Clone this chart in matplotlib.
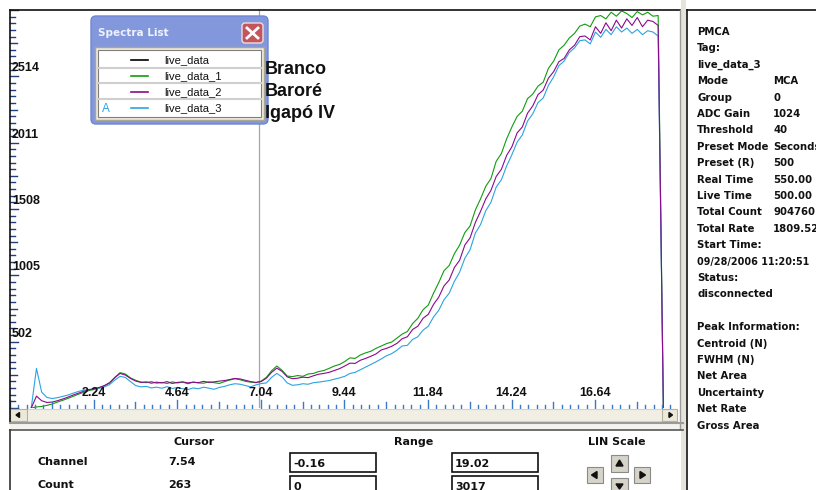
import matplotlib.pyplot as plt
import numpy as np
from matplotlib.patches import FancyBboxPatch, Polygon, Rectangle

W, H = 816, 490

# spectrum channels and counts per trace
channel = np.round(np.arange(0.45, 18.61, 0.15), 2)

live_data_1 = [
    0, 8, 12, 20, 30, 45, 58, 72, 88, 104,
    118, 132, 140, 152, 168, 190, 232, 268, 258, 228,
    210, 196, 192, 200, 188, 194, 186, 198, 190, 196,
    184, 196, 190, 188, 198, 192, 186, 200, 212, 222,
    214, 202, 196, 192, 204, 232, 282, 318, 286, 242,
    238, 246, 240, 258, 262, 276, 284, 300, 318, 330,
    352, 380, 376, 402, 418, 430, 452, 470, 488, 500,
    530, 560, 580, 640, 680, 745, 780, 870, 950, 1040,
    1080, 1170, 1235, 1330, 1380, 1500, 1585, 1680, 1740, 1870,
    1930, 2040, 2130, 2210, 2250, 2345, 2380, 2440, 2470, 2575,
    2630, 2715, 2750, 2805, 2840, 2895, 2910, 2890, 2965, 2975,
    2950, 3000, 2970, 3010, 2990, 2960, 3005, 2980, 3000, 2970, 2975, 0,
]
live_data_2 = [
    0, 90, 55, 42, 45, 55, 68, 82, 98, 112,
    126, 138, 146, 156, 170, 192, 230, 262, 250, 224,
    204, 194, 198, 188, 196, 190, 200, 186, 194, 198,
    190, 196, 192, 202, 194, 198, 204, 208, 216, 224,
    220, 210, 200, 194, 200, 226, 270, 302, 278, 236,
    222, 226, 234, 230, 244, 256, 262, 270, 284, 298,
    318, 340, 338, 362, 376, 392, 410, 440, 452, 468,
    490, 525, 540, 595, 620, 680, 710, 785, 840, 925,
    970, 1065, 1120, 1235, 1290, 1405, 1490, 1585, 1650, 1755,
    1810, 1915, 1980, 2085, 2130, 2235, 2290, 2375, 2410, 2500,
    2550, 2625, 2650, 2715, 2750, 2815, 2820, 2790, 2890, 2840,
    2920, 2860, 2940, 2880, 2950, 2900, 2960, 2890, 2940, 2930, 2900, 0,
]
live_data_3 = [
    0, 300, 120, 80, 72, 78, 88, 98, 112, 125,
    135, 140, 144, 150, 160, 178, 212, 240, 232, 200,
    170, 160, 164, 152, 158, 150, 162, 148, 156, 146,
    140, 152, 146, 158, 150, 142, 156, 164, 176, 184,
    180, 170, 160, 175, 185, 190, 232, 262, 236, 190,
    172, 176, 184, 180, 192, 196, 202, 208, 218, 228,
    240, 262, 270, 290, 310, 330, 350, 372, 396, 412,
    438, 470, 475, 520, 540, 590, 620, 690, 740, 820,
    870, 960, 1030, 1135, 1200, 1325, 1390, 1495, 1560, 1675,
    1730, 1835, 1920, 2015, 2070, 2175, 2230, 2315, 2350, 2445,
    2510, 2595, 2630, 2695, 2730, 2785, 2790, 2760, 2850, 2810,
    2870, 2830, 2890, 2850, 2880, 2840, 2870, 2830, 2860, 2850, 2820, 0,
]

x_lo, x_hi = -0.16, 19.02
y_lo, y_hi = 0, 3017
marker_channel = 7.0
cursor_channel = "7.54"
cursor_count = "263"

trace_names = ["live_data", "live_data_1", "live_data_2", "live_data_3"]
trace_colors = ["#000000", "#119b11", "#8b0a8b", "#2ba3e3"]
sample_names = ["Branco", "Baroré", "Igapó IV"]

info_rows = [
    ("PMCA", ""), ("Tag:", ""), ("live_data_3", ""), ("Mode", "MCA"),
    ("Group", "0"), ("ADC Gain", "1024"), ("Threshold", "40"),
    ("Preset Mode", "Seconds"), ("Preset (R)", "500"),
    ("Real Time", "550.00"), ("Live Time", "500.00"),
    ("Total Count", "904760"), ("Total Rate", "1809.52"),
    ("Start Time:", ""), ("09/28/2006 11:20:51", ""), ("Status:", ""),
    ("disconnected", ""), ("", ""), ("Peak Information:", ""),
    ("Centroid (N)", ""), ("FWHM (N)", ""), ("Net Area", ""),
    ("Uncertainty", ""), ("Net Rate", ""), ("Gross Area", ""),
]

plt.rcParams["font.family"] = "DejaVu Sans"
fig = plt.figure(figsize=(W / 100, H / 100), dpi=100, facecolor="white")

# pixel-space layer behind the plot
bg = fig.add_axes([0, 0, 1, 1], zorder=0)
bg.set_xlim(0, W)
bg.set_ylim(H, 0)
bg.axis("off")

# spectrum plot
ax = fig.add_axes([10 / W, 1 - 408 / H, 668 / W, 398 / H], zorder=1)
ax.set_xlim(x_lo, x_hi)
ax.set_ylim(y_lo, y_hi)
ax.axis("off")
ax.patch.set_visible(False)

kx = (x_hi - x_lo) / 668  # channel units per pixel
ky = (y_hi - y_lo) / 398  # counts per pixel

ax.axvline(marker_channel, color="#a6a6a6", lw=0.9)
for data, color in zip(
    [live_data_1, live_data_3, live_data_2],
    [trace_colors[1], trace_colors[3], trace_colors[2]],
):
    ax.plot(channel, data, color=color, lw=0.8)

# x ticks: minor every 0.24, medium every 1.2, major every 2.4
xt = np.arange(x_lo, x_hi + 1e-6, 0.24)
for k, t in enumerate(xt):
    n = 8 if k % 10 == 0 else (6 if k % 5 == 0 else 3.5)
    ax.plot([t, t], [0, n * ky], color="#3d78c6", lw=1, clip_on=False)
    if k % 10 == 0 and k > 0:
        ax.annotate(f"{t:.2f}", xy=(t, 0), xytext=(0, 15), textcoords="offset pixels",
                    ha="center", va="center", fontsize=9, fontweight="bold",
                    family="Liberation Sans", color="#111111")

# y ticks: 60 steps over full range, labels every 10th
yt = np.linspace(y_lo, y_hi, 61)
for k, t in enumerate(yt):
    n = 8 if k % 10 == 0 else (6.5 if k % 5 == 0 else 5)
    ax.plot([x_lo, x_lo + n * kx], [t, t], color="#1f3d80", lw=1, clip_on=False)
    if k % 10 == 0 and 0 < k < 60:
        ax.annotate(f"{int(t)}", xy=(x_lo, t), xytext=(2, 8), textcoords="offset pixels",
                    ha="left", va="center", fontsize=9, fontweight="bold",
                    family="Liberation Sans", color="#111111")

# pixel-space layer in front of the plot
ui = fig.add_axes([0, 0, 1, 1], zorder=2)
ui.set_xlim(0, W)
ui.set_ylim(H, 0)
ui.axis("off")
ui.patch.set_visible(False)

# plot frame
ui.plot([9.5, 680], [10, 10], color="#111111", lw=1.2)
ui.plot([9.5, 9.5], [10, 423], color="#111111", lw=1.2)
ui.plot([680, 680], [10, 428], color="#9c9c9c", lw=1)

# horizontal scroll bar
ui.add_patch(Rectangle((10, 408.5), 667, 12.5, facecolor="#f1efe3", edgecolor="#d8d4c0", lw=0.8))
ui.add_patch(Rectangle((10, 409), 17, 12, facecolor="#ece9d8", edgecolor="#b5b19c", lw=0.8))
ui.add_patch(Rectangle((662, 409), 15, 12, facecolor="#ece9d8", edgecolor="#b5b19c", lw=0.8))
ui.add_patch(Polygon([[16, 415], [19.5, 412.5], [19.5, 417.5]], closed=True, color="#111111"))
ui.add_patch(Polygon([[672.5, 415], [669, 412.5], [669, 417.5]], closed=True, color="#111111"))
ui.plot([9.5, 683], [423, 423], color="#9a9a9a", lw=1.5)
ui.add_patch(Rectangle((9.5, 424), 673.5, 4.5, facecolor="#f4f3ee", edgecolor="none"))

# lower control panel
ui.plot([9.5, 683], [429.5, 429.5], color="#555555", lw=1.2)
ui.plot([9.5, 9.5], [429.5, 490], color="#333333", lw=1.2)
bold8 = dict(fontsize=8, fontweight="bold", color="#111111", va="center")
ui.text(194, 442, "Cursor", ha="center", **bold8)
ui.text(414, 442, "Range", ha="center", **bold8)
ui.text(617, 442, "LIN Scale", ha="center", **bold8)
ui.text(37, 462, "Channel", ha="left", **bold8)
ui.text(37, 485, "Count", ha="left", **bold8)
ui.text(168, 462, cursor_channel, ha="left", **bold8)
ui.text(168, 485, cursor_count, ha="left", **bold8)
for (bx, by), txt in zip([(290, 453), (452, 453), (290, 476), (452, 476)],
                         [f"{x_lo:.2f}", f"{x_hi:.2f}", f"{y_lo}", f"{y_hi}"]):
    ui.add_patch(Rectangle((bx, by), 86, 19, facecolor="white", edgecolor="#111111", lw=1.2))
    ui.text(bx + 3, by + 10.5, txt, ha="left", **bold8)

# arrow buttons
for (bx, by, w, h), tri in [
    ((611, 455, 17, 17), [[619.5, 460], [616, 466], [623, 466]]),
    ((587, 467, 16, 16), [[591.5, 475], [597, 471.5], [597, 478.5]]),
    ((634, 467, 16, 16), [[645.5, 475], [640, 471.5], [640, 478.5]]),
    ((611, 478, 17, 17), [[619.5, 489], [616, 484], [623, 484]]),
]:
    ui.add_patch(Rectangle((bx, by), w, h, facecolor="#d6d3c9", edgecolor="#8a8a8a", lw=0.8))
    ui.add_patch(Polygon(tri, closed=True, color="#111111"))

# right information panel
ui.add_patch(Rectangle((681, 0), 5, H, facecolor="#e6e4d8", edgecolor="none"))
ui.plot([686.5, 686.5], [10, H], color="#111111", lw=1.2)
ui.plot([686.5, W], [10, 10], color="#111111", lw=1.2)
for i, (label, value) in enumerate(info_rows):
    yy = 32 + i * 16.4
    size = 6.9 if label.startswith("09/") else 7.3
    ui.text(697, yy, label, ha="left", va="center", fontsize=size,
            fontweight="bold", color="#111111")
    if value:
        ui.text(773, yy, value, ha="left", va="center", fontsize=7.3,
                fontweight="bold", color="#111111")

# spectra list window
ui.add_patch(FancyBboxPatch((91, 16), 177, 108, boxstyle="round,pad=0,rounding_size=5",
                            facecolor="#8398dc", edgecolor="#6f86d2", lw=1))
ui.text(98, 33, "Spectra List", ha="left", va="center", fontsize=7.5,
        fontweight="bold", color="#eef1ff")
ui.add_patch(FancyBboxPatch((242, 23), 21, 20, boxstyle="round,pad=0,rounding_size=3",
                            facecolor="#c4545d", edgecolor="#f0dcdc", lw=1))
ui.plot([247, 258], [28, 38], color="white", lw=2)
ui.plot([247, 258], [38, 28], color="white", lw=2)
ui.add_patch(Rectangle((95, 47), 169, 73, facecolor="#ece9d8", edgecolor="#a9a698", lw=1))
ui.add_patch(Rectangle((98, 50), 163, 67, facecolor="white", edgecolor="#7f7f7f", lw=0.8))
for yy in [68, 83.5, 99]:
    ui.plot([98, 261], [yy, yy], color="#cfcfcf", lw=1.5)
for yy, name, color in zip([60.5, 76, 92, 108.5], trace_names, trace_colors):
    ui.plot([131, 148], [yy, yy], color=color, lw=1.2)
    ui.text(164, yy, name, ha="left", va="center", fontsize=8,
            family="Liberation Sans", color="#111111")
ui.text(106, 108.5, "A", ha="center", va="center", fontsize=8.5,
        family="Liberation Sans", color=trace_colors[3])

for yy, name in zip([70, 92, 113], sample_names):
    ui.text(265, yy, name, ha="left", va="center", fontsize=13,
            fontweight="bold", family="Liberation Sans", color="#111111")

fig.savefig("out.png", dpi=100, facecolor="white")
